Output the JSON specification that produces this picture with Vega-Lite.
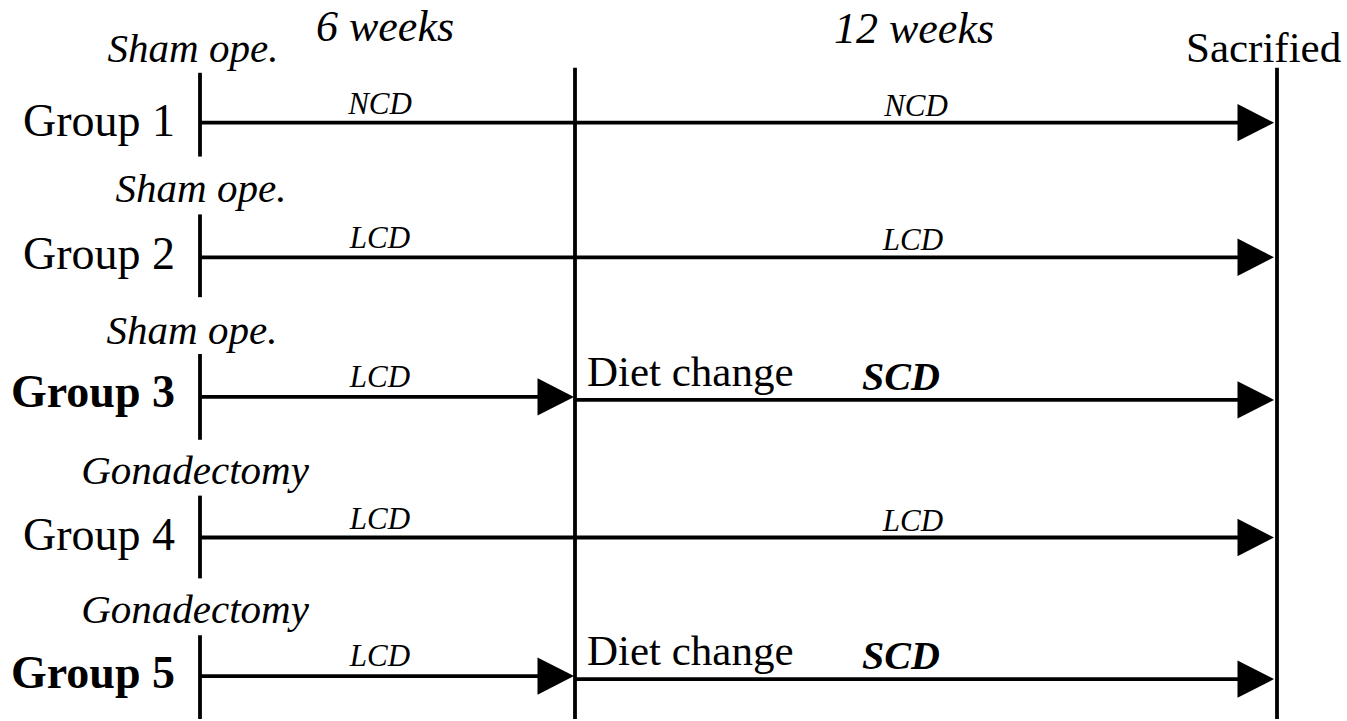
{
  "$schema": "https://vega.github.io/schema/vega-lite/v6.json",
  "width": 1347,
  "height": 721,
  "autosize": {"type": "fit", "contains": "padding"},
  "padding": 0,
  "background": "white",
  "config": {"view": {"stroke": null}, "text": {"font": "Liberation Serif", "color": "black"}},
  "datasets": {
    "lines": [
      {"x": 200, "x2": 200, "y": 73, "y2": 157},
      {"x": 200, "x2": 200, "y": 215, "y2": 298},
      {"x": 200, "x2": 200, "y": 355, "y2": 441},
      {"x": 200, "x2": 200, "y": 497, "y2": 580},
      {"x": 200, "x2": 200, "y": 637, "y2": 721},
      {"x": 575, "x2": 575, "y": 68, "y2": 721},
      {"x": 1277, "x2": 1277, "y": 68, "y2": 721},
      {"x": 200, "x2": 1260, "y": 123, "y2": 123},
      {"x": 200, "x2": 1260, "y": 258, "y2": 258},
      {"x": 200, "x2": 560, "y": 398, "y2": 398},
      {"x": 575, "x2": 1260, "y": 401, "y2": 401},
      {"x": 200, "x2": 1260, "y": 539, "y2": 539},
      {"x": 200, "x2": 560, "y": 678, "y2": 678},
      {"x": 575, "x2": 1260, "y": 681, "y2": 681}
    ],
    "heads": [
      {"x": 1274, "y": 123},
      {"x": 1274, "y": 258},
      {"x": 574, "y": 398},
      {"x": 1274, "y": 401},
      {"x": 1274, "y": 539},
      {"x": 574, "y": 678},
      {"x": 1274, "y": 681}
    ],
    "labels": [
      {"text": "6 weeks", "x": 385, "y": 41, "role": "period"},
      {"text": "12 weeks", "x": 914, "y": 43, "role": "period"},
      {"text": "Sacrified", "x": 1186, "y": 62, "role": "event"},
      {"text": "Diet change", "x": 587, "y": 387, "role": "event"},
      {"text": "Diet change", "x": 587, "y": 667, "role": "event"},
      {"text": "Sham ope.", "x": 193, "y": 62, "role": "op"},
      {"text": "Sham ope.", "x": 201, "y": 203, "role": "op"},
      {"text": "Sham ope.", "x": 192, "y": 345, "role": "op"},
      {"text": "Gonadectomy", "x": 195, "y": 485, "role": "op"},
      {"text": "Gonadectomy", "x": 195, "y": 625, "role": "op"},
      {"text": "NCD", "x": 380, "y": 114, "role": "diet"},
      {"text": "NCD", "x": 916, "y": 116, "role": "diet"},
      {"text": "LCD", "x": 380, "y": 249, "role": "diet"},
      {"text": "LCD", "x": 913, "y": 251, "role": "diet"},
      {"text": "LCD", "x": 380, "y": 388, "role": "diet"},
      {"text": "LCD", "x": 380, "y": 530, "role": "diet"},
      {"text": "LCD", "x": 913, "y": 532, "role": "diet"},
      {"text": "LCD", "x": 380, "y": 668, "role": "diet"},
      {"text": "Group 1", "x": 175, "y": 136, "role": "group"},
      {"text": "Group 2", "x": 175, "y": 270, "role": "group"},
      {"text": "Group 3", "x": 175, "y": 408, "role": "groupBold"},
      {"text": "Group 4", "x": 175, "y": 552, "role": "group"},
      {"text": "Group 5", "x": 175, "y": 690, "role": "groupBold"},
      {"text": "SCD", "x": 862, "y": 391, "role": "scd"},
      {"text": "SCD", "x": 862, "y": 671, "role": "scd"}
    ]
  },
  "encoding": {
    "x": {"field": "x", "type": "quantitative", "scale": {"domain": [0, 1347], "nice": false, "zero": false}, "axis": null},
    "y": {"field": "y", "type": "quantitative", "scale": {"domain": [0, 721], "nice": false, "zero": false, "reverse": true}, "axis": null}
  },
  "layer": [
    {
      "data": {"name": "lines"},
      "mark": {"type": "rule", "strokeWidth": 3.8, "color": "black"},
      "encoding": {"x2": {"field": "x2"}, "y2": {"field": "y2"}}
    },
    {
      "data": {"name": "heads"},
      "mark": {"type": "point", "shape": "M-1.95,-1L0,0L-1.95,1Z", "filled": true, "size": 1400, "color": "black", "opacity": 1, "strokeWidth": 0}
    },
    {
      "data": {"name": "labels"},
      "transform": [{"filter": "datum.role === 'period'"}],
      "mark": {"type": "text", "fontSize": 44, "fontStyle": "italic", "align": "center", "baseline": "alphabetic"},
      "encoding": {"text": {"field": "text"}}
    },
    {
      "data": {"name": "labels"},
      "transform": [{"filter": "datum.role === 'op'"}],
      "mark": {"type": "text", "fontSize": 41, "fontStyle": "italic", "align": "center", "baseline": "alphabetic"},
      "encoding": {"text": {"field": "text"}}
    },
    {
      "data": {"name": "labels"},
      "transform": [{"filter": "datum.role === 'diet'"}],
      "mark": {"type": "text", "fontSize": 31, "fontStyle": "italic", "align": "center", "baseline": "alphabetic"},
      "encoding": {"text": {"field": "text"}}
    },
    {
      "data": {"name": "labels"},
      "transform": [{"filter": "datum.role === 'event'"}],
      "mark": {"type": "text", "fontSize": 43, "align": "left", "baseline": "alphabetic"},
      "encoding": {"text": {"field": "text"}}
    },
    {
      "data": {"name": "labels"},
      "transform": [{"filter": "datum.role === 'group'"}],
      "mark": {"type": "text", "fontSize": 46, "align": "right", "baseline": "alphabetic"},
      "encoding": {"text": {"field": "text"}}
    },
    {
      "data": {"name": "labels"},
      "transform": [{"filter": "datum.role === 'groupBold'"}],
      "mark": {"type": "text", "fontSize": 46, "fontWeight": "bold", "align": "right", "baseline": "alphabetic"},
      "encoding": {"text": {"field": "text"}}
    },
    {
      "data": {"name": "labels"},
      "transform": [{"filter": "datum.role === 'scd'"}],
      "mark": {"type": "text", "fontSize": 40, "fontWeight": "bold", "fontStyle": "italic", "align": "left", "baseline": "alphabetic"},
      "encoding": {"text": {"field": "text"}}
    }
  ]
}
